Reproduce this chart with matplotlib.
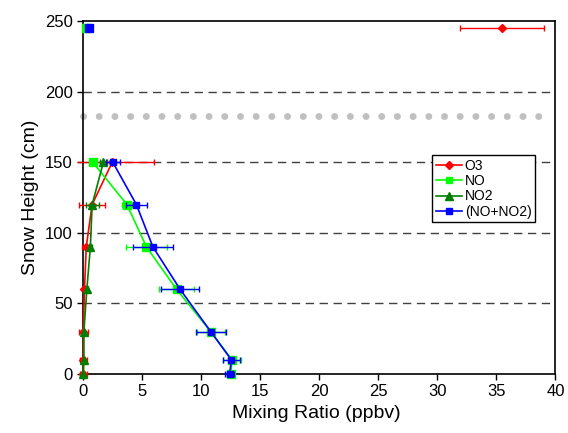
import matplotlib.pyplot as plt
from matplotlib.lines import Line2D
from matplotlib.patches import Rectangle

plt.rcParams['font.family'] = ['Liberation Sans', 'DejaVu Sans']

# perfil en la nieve (cm) y razones de mezcla (ppbv)
alturas = [150, 120, 90, 60, 30, 10, 0]
o3 = [2.45, 0.75, 0.25, 0.1, 0.0, 0.0, 0.0]
o3_err = [3.5, 1.1, 0.4, 0.15, 0.4, 0.3, 0.3]
no = [0.8, 3.7, 5.35, 7.9, 10.8, 12.6, 12.5]
no_err = [0.1, 0.45, 1.7, 1.5, 1.2, 0.8, 0.3]
no2 = [1.7, 0.75, 0.6, 0.3, 0.05, 0.05, 0.0]
no2_err = [0.3, 0.55, 0.15, 0.1, 0.1, 0.1, 0.1]
nox = [2.5, 4.5, 5.9, 8.2, 10.8, 12.55, 12.4]
nox_err = [0.6, 0.9, 1.7, 1.6, 1.25, 0.7, 0.4]

# aire sobre la nieve
altura_aire = 245
o3_aire, o3_aire_err = 35.5, 3.55
no_aire = 0.25
nox_aire = 0.5

superficie = 183
grilla = [50, 100, 150, 200]

fig = plt.figure(figsize=(5.68, 4.33), dpi=100)
ax = fig.add_axes([0.1373, 0.1363, 0.8405, 0.815])

for y in grilla:
    ax.plot([0, 40], [y, y], color='#404040', lw=1, ls=(0, (6, 4)), zorder=1)

# nivel de la superficie de la nieve
ax.plot([0, 39.6], [superficie, superficie], color='#c0c0c0', lw=5,
        ls=(0, (0.01, 2.25)), dash_capstyle='round', zorder=1)

# recorte de las barras de error solo por la izquierda
recorte = Rectangle((-0.45, -20), 45, 300, transform=ax.transData)

series = [
    (o3, o3_err, '#ff0000', 'D', 4.5, 'O3'),
    (no, no_err, '#00ff00', 's', 5.5, 'NO'),
    (no2, no2_err, '#008000', '^', 6, 'NO2'),
    (nox, nox_err, '#0000ff', 's', 5, '(NO+NO2)'),
]

handles = []
for i, (x, err, color, marker, ms, label) in enumerate(series):
    eb = ax.errorbar(x, alturas, xerr=err, fmt='none', ecolor=color, elinewidth=1,
                     capsize=2.5, capthick=1, zorder=3 + i)
    for a in eb.get_children():
        a.set_clip_path(recorte)
    ax.plot(x, alturas, color=color, lw=1.2, marker=marker, ms=ms,
            clip_on=False, zorder=3 + i)
    handles.append(Line2D([], [], color=color, lw=1.2, marker=marker, ms=ms - 0.5,
                          label=label))

ax.errorbar([o3_aire], [altura_aire], xerr=[o3_aire_err], fmt='D', color='#ff0000',
            ms=4.5, elinewidth=1, capsize=2.5, capthick=1, zorder=4)
ax.plot([no_aire], [altura_aire], 's', color='#00ff00', ms=6, clip_on=False, zorder=5)
ax.plot([nox_aire], [altura_aire], 's', color='#0000ff', ms=5.5, clip_on=False, zorder=7)

ax.set_xlim(-0.45, 40)
ax.set_ylim(0, 250)
ax.spines['left'].set_position(('data', 0))
ax.spines['top'].set_bounds(0, 40)
ax.spines['bottom'].set_bounds(0, 40)
for s in ax.spines.values():
    s.set_linewidth(1.2)
    s.set_zorder(2)

ax.set_xticks(range(0, 41, 5))
ax.set_yticks(range(0, 251, 50))
ax.tick_params(direction='out', length=4, width=1, labelsize=12)
ax.tick_params(top=False, right=False)

ax.set_xlabel('Mixing Ratio (ppbv)', fontsize=14)
ax.set_ylabel('Snow Height (cm)', fontsize=14)

leg = ax.legend(handles=handles, loc='upper left', bbox_to_anchor=(0.742, 0.62),
                fontsize=10, frameon=True, fancybox=False, framealpha=1,
                edgecolor='black', handlelength=1.9, handletextpad=0.2,
                labelspacing=0.1, borderpad=0.25, borderaxespad=0)
leg.get_frame().set_linewidth(1)
leg.set_zorder(10)

plt.savefig('out.png', dpi=100)
